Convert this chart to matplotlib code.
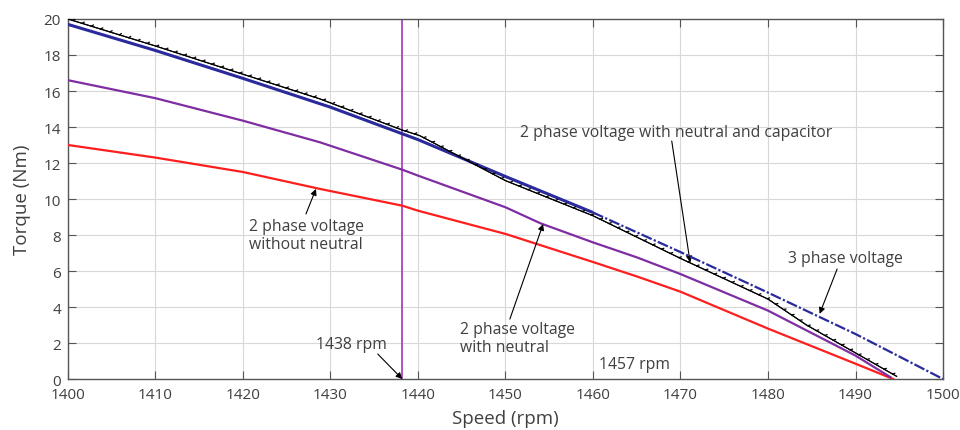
import matplotlib
matplotlib.use("Agg")
import matplotlib.pyplot as plt
import matplotlib.patheffects as pe

plt.rcParams['font.family'] = ['Open Sans', 'DejaVu Sans']

# Torque-speed curves of the induction motor under different supply conditions
speed_3ph = [1400, 1410, 1420, 1430, 1440, 1450, 1460, 1470, 1480, 1490, 1500]
torque_3ph = [19.7, 18.25, 16.7, 15.1, 13.3, 11.25, 9.25, 7.05, 4.8, 2.5, 0.0]

speed_cap = [1400, 1410, 1420, 1428.8, 1438.2, 1440.2, 1450, 1460, 1470, 1480, 1484.4, 1490, 1494.7]
torque_cap = [20.0, 18.5, 16.93, 15.56, 13.83, 13.52, 11.02, 9.07, 6.7, 4.44, 3.0, 1.45, 0.15]

speed_neu = [1400, 1410, 1420, 1428.8, 1438.2, 1440, 1450, 1454, 1460, 1465, 1470, 1480, 1490, 1494]
torque_neu = [16.6, 15.6, 14.35, 13.15, 11.63, 11.3, 9.54, 8.65, 7.59, 6.76, 5.83, 3.8, 1.3, 0.1]

speed_noneu = [1400, 1410, 1420, 1428.8, 1438.2, 1440, 1450, 1460, 1465, 1470, 1480, 1490, 1494.3]
torque_noneu = [13.0, 12.3, 11.5, 10.56, 9.63, 9.35, 8.06, 6.5, 5.7, 4.85, 2.8, 0.85, 0.0]

marker_speed = 1438.2
xticks = list(range(1400, 1501, 10))
yticks = list(range(0, 21, 2))

TXT = '#404040'
SPINE = '#555555'

fig = plt.figure(figsize=(9.6, 4.31), dpi=100)
ax = fig.add_axes([0.0708, 0.1183, 0.9115, 0.8353])

ax.plot(speed_noneu, torque_noneu, color='#FF1E1E', lw=1.6, zorder=3)
ax.plot(speed_neu, torque_neu, color='#7E2EA2', lw=1.6, zorder=3)

# 3-phase curve: dense solid trace at high torque, dotted trace further down
ax.plot(speed_3ph[:7], torque_3ph[:7], color='#2A2A9C', lw=2.2, zorder=4,
        solid_capstyle='butt')
ax.plot(speed_3ph[6:], torque_3ph[6:], color='#2A2A9C', lw=1.6, zorder=4,
        linestyle=(0, (5, 1, 1, 1)))

ax.plot(speed_cap, torque_cap, color='black', lw=0.8, zorder=5,
        path_effects=[pe.withTickedStroke(spacing=7, angle=45, length=0.25, linewidth=0.9),
                      pe.Normal()])

ax.axvline(marker_speed, color='#A845C0', lw=1.3, zorder=2)

ax.set_xlim(1400, 1500)
ax.set_ylim(0, 20)
ax.set_xticks(xticks)
ax.set_yticks(yticks)
ax.grid(True, color='#D8D8D8', lw=0.8)
ax.set_axisbelow(True)
ax.tick_params(direction='in', length=6, width=0.8, colors=SPINE,
               labelcolor=TXT, labelsize=11, top=True, right=True)
ax.tick_params(axis='x', pad=6)
ax.tick_params(axis='y', pad=5)
for s in ax.spines.values():
    s.set_color(SPINE)
    s.set_linewidth(1.0)

ax.set_xlabel('Speed (rpm)', fontsize=13.5, color=TXT, labelpad=5)
ax.set_ylabel('Torque (Nm)', fontsize=13.5, color=TXT, labelpad=9)

arrow = dict(arrowstyle='-|>', color='black', lw=0.8, mutation_scale=9,
             shrinkA=0, shrinkB=0)
fs = 11.3

ax.text(1451.7, 13.3, '2 phase voltage with neutral and capacitor',
        fontsize=fs, color=TXT, va='bottom', ha='left')
ax.annotate('', xy=(1471.1, 6.48), xytext=(1469.0, 13.22), arrowprops=arrow)

ax.text(1482.3, 6.72, '3 phase voltage', fontsize=fs, color=TXT,
        va='center', ha='left')
ax.annotate('', xy=(1485.9, 3.62), xytext=(1487.9, 6.11), arrowprops=arrow)

ax.text(1420.7, 8.0, '2 phase voltage\nwithout neutral', fontsize=fs, color=TXT,
        va='center', ha='left', linespacing=1.2)
ax.annotate('', xy=(1428.34, 10.56), xytext=(1427.2, 9.17), arrowprops=arrow)

ax.text(1444.8, 2.28, '2 phase voltage\nwith neutral', fontsize=fs, color=TXT,
        va='center', ha='left', linespacing=1.2)
ax.annotate('', xy=(1454.3, 8.61), xytext=(1450.5, 3.33), arrowprops=arrow)

ax.text(1428.4, 1.94, '1438 rpm', fontsize=fs, color=TXT, va='center', ha='left')
ax.annotate('', xy=(marker_speed, 0), xytext=(1435.4, 1.39), arrowprops=arrow)

ax.text(1460.7, 0.83, '1457 rpm', fontsize=fs, color=TXT, va='center', ha='left')

fig.savefig('out.png', dpi=100)
